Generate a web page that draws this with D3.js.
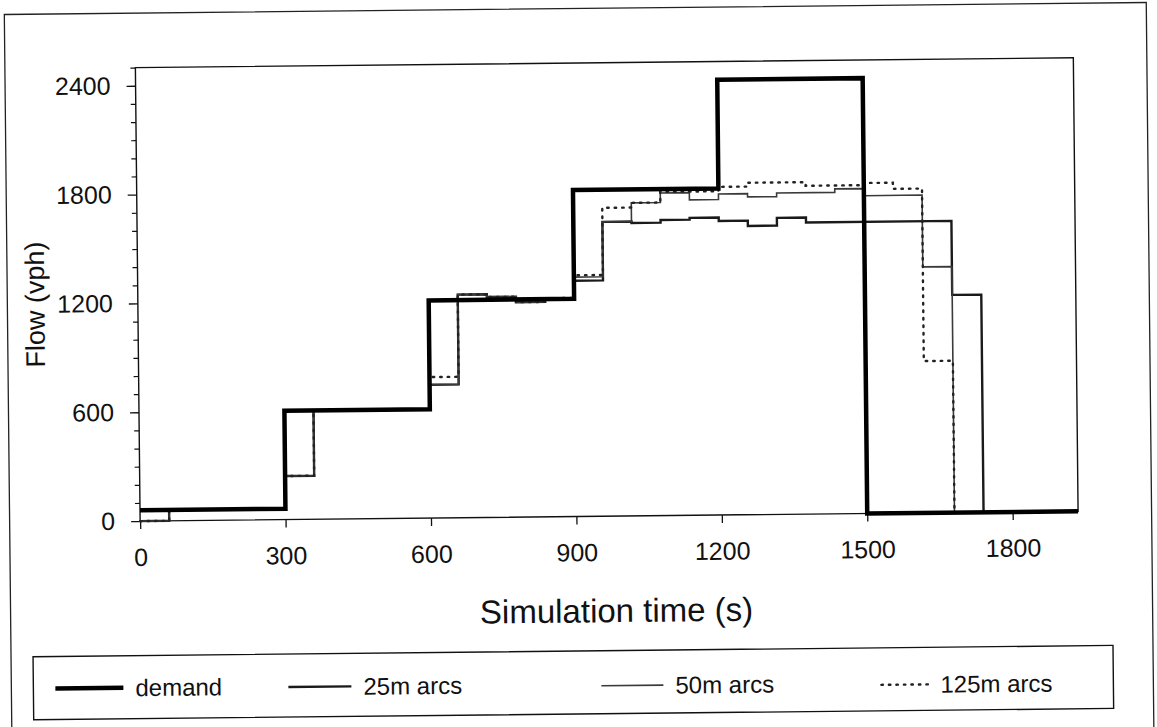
<!DOCTYPE html>
<html lang="en">
<head>
<meta charset="UTF-8">
<title>Flow vs simulation time</title>
<style>
  html, body { margin: 0; padding: 0; background: #fff; }
  svg text { font-family: "Liberation Sans", Arial, sans-serif; fill: #111; }
</style>
</head>
<body>
<div id="chart"></div>
<script src="https://d3js.org/d3.v7.min.js"></script>
<script>
// tick labels
const xTicks = [0, 300, 600, 900, 1200, 1500, 1800];
const yTicks = [0, 600, 1200, 1800, 2400];
const yMinor = [100, 200, 300, 400, 500, 700, 800, 900, 1000, 1100, 1300, 1400, 1500, 1600, 1700,
                1900, 2000, 2100, 2200, 2300, 2500];

// step series: start time of each step and its flow (vph)
const demandT = [0, 300, 600, 900, 1200, 1500];
const demandV = [60, 600, 1200, 1800, 2400, 0];

const arcs25T = [0, 60, 300, 360, 600, 660, 720, 780, 840, 900, 960, 1020, 1080, 1140, 1200, 1260, 1320, 1380, 1680, 1740];
const arcs25V = [0, 60, 240, 600, 735, 1230, 1215, 1185, 1205, 1300, 1623, 1615, 1630, 1640, 1621, 1592, 1635, 1608, 1200, 0];

const arcs50T = [0, 60, 300, 360, 600, 660, 720, 780, 840, 900, 960, 1020, 1080, 1140, 1200, 1260, 1320, 1440, 1500, 1620, 1680];
const arcs50V = [0, 60, 240, 600, 735, 1230, 1215, 1185, 1205, 1320, 1623, 1726, 1779, 1739, 1770, 1752, 1772, 1791, 1752, 1356, 0];

const arcs125T = [0, 60, 300, 360, 600, 660, 720, 780, 840, 900, 960, 1020, 1080, 1140, 1200, 1260, 1380, 1500, 1560, 1620, 1680];
const arcs125V = [0, 60, 240, 600, 777, 1230, 1215, 1185, 1205, 1330, 1700, 1726, 1785, 1785, 1809, 1830, 1810, 1822, 1788, 837, 0];

const tEnd = 1935;

const W = 1157, H = 727;
const plot = { left: 138.5, right: 1076.5, top: 63, bottom: 516.5 };

const svg = d3.select("#chart").append("svg")
    .attr("width", W).attr("height", H);

// the original is a slightly rotated scan
const g = svg.append("g").attr("transform", "rotate(-0.6, 578, 363)");

// outer frame
g.append("rect")
    .attr("x", 8).attr("y", 8.5).attr("width", 1142).attr("height", 760)
    .attr("fill", "none").attr("stroke", "#222").attr("stroke-width", 1.3);

const x = d3.scaleLinear().domain([0, tEnd]).range([plot.left, plot.right]);
const y = d3.scaleLinear().domain([0, 2500]).range([plot.bottom, plot.top]);

// plot frame
g.append("rect")
    .attr("x", plot.left).attr("y", plot.top)
    .attr("width", plot.right - plot.left).attr("height", plot.bottom - plot.top)
    .attr("fill", "none").attr("stroke", "#111").attr("stroke-width", 1.4);

// y axis, minor ticks
g.append("g")
    .attr("transform", `translate(${plot.left},0)`)
    .call(d3.axisLeft(y).tickValues(yMinor).tickSize(5).tickFormat(""))
    .call(s => s.select(".domain").remove())
    .call(s => s.selectAll("line").attr("stroke", "#111").attr("stroke-width", 1.2));

// y axis, major ticks
g.append("g")
    .attr("transform", `translate(${plot.left},0)`)
    .call(d3.axisLeft(y).tickValues(yTicks).tickSize(9).tickPadding(16).tickFormat(d3.format("d")))
    .call(s => s.select(".domain").remove())
    .call(s => s.selectAll("line").attr("stroke", "#111").attr("stroke-width", 1.3))
    .call(s => s.selectAll("text").attr("font-size", 25).attr("font-family", null));

// x axis
g.append("g")
    .attr("transform", `translate(0,${plot.bottom})`)
    .call(d3.axisBottom(x).tickValues(xTicks).tickSize(8).tickPadding(19).tickFormat(d3.format("d")))
    .call(s => s.select(".domain").remove())
    .call(s => s.selectAll("line").attr("stroke", "#111").attr("stroke-width", 1.3))
    .call(s => s.selectAll("text").attr("font-size", 25).attr("font-family", null));

// axis titles
g.append("text")
    .attr("transform", "translate(36,299) rotate(-90)")
    .attr("text-anchor", "middle").attr("dominant-baseline", "central")
    .attr("font-size", 27)
    .text("Flow (vph)");

g.append("text")
    .attr("x", 614).attr("y", 611)
    .attr("text-anchor", "middle").attr("dominant-baseline", "central")
    .attr("font-size", 33)
    .text("Simulation time (s)");

// series
function steps(ts, vs) {
  const pts = ts.map((t, i) => ({ t, v: vs[i] }));
  pts.push({ t: tEnd, v: vs[vs.length - 1] });
  return pts;
}

const line = d3.line().curve(d3.curveStepAfter).x(d => x(d.t)).y(d => y(d.v));

const series = [
  { name: "25m arcs",  data: steps(arcs25T, arcs25V),  stroke: "#1a1a1a", width: 2.4, dash: null },
  { name: "50m arcs",  data: steps(arcs50T, arcs50V),  stroke: "#3a3a3a", width: 1.6, dash: null },
  { name: "125m arcs", data: steps(arcs125T, arcs125V), stroke: "#222",   width: 2.4, dash: "1.5,6" },
  { name: "demand",    data: steps(demandT, demandV),  stroke: "#000",   width: 4.5, dash: null }
];

g.append("g").selectAll("path")
  .data(series)
  .join("path")
    .attr("d", d => line(d.data))
    .attr("fill", "none")
    .attr("stroke", d => d.stroke)
    .attr("stroke-width", d => d.width)
    .attr("stroke-dasharray", d => d.dash)
    .attr("stroke-linecap", d => d.dash ? "round" : "butt");

// legend
g.append("rect")
    .attr("x", 30).attr("y", 651).attr("width", 1080).attr("height", 63)
    .attr("fill", "none").attr("stroke", "#111").attr("stroke-width", 1.4);

const legendItems = [
  { s: series[3], x0: 52,  x1: 120, y: 683 },
  { s: series[0], x0: 285, x1: 348, y: 684 },
  { s: series[1], x0: 598, x1: 660, y: 686 },
  { s: series[2], x0: 878, x1: 925, y: 688 }
];

const lg = g.append("g").selectAll("g")
  .data(legendItems)
  .join("g");

lg.append("line")
    .attr("x1", d => d.x0).attr("x2", d => d.x1)
    .attr("y1", d => d.y).attr("y2", d => d.y)
    .attr("stroke", d => d.s.stroke)
    .attr("stroke-width", d => d.s.width)
    .attr("stroke-dasharray", d => d.s.dash)
    .attr("stroke-linecap", d => d.s.dash ? "round" : "butt");

lg.append("text")
    .attr("x", d => d.x1 + 12).attr("y", d => d.y)
    .attr("dominant-baseline", "central")
    .attr("font-size", 24)
    .text(d => d.s.name);
</script>
</body>
</html>
